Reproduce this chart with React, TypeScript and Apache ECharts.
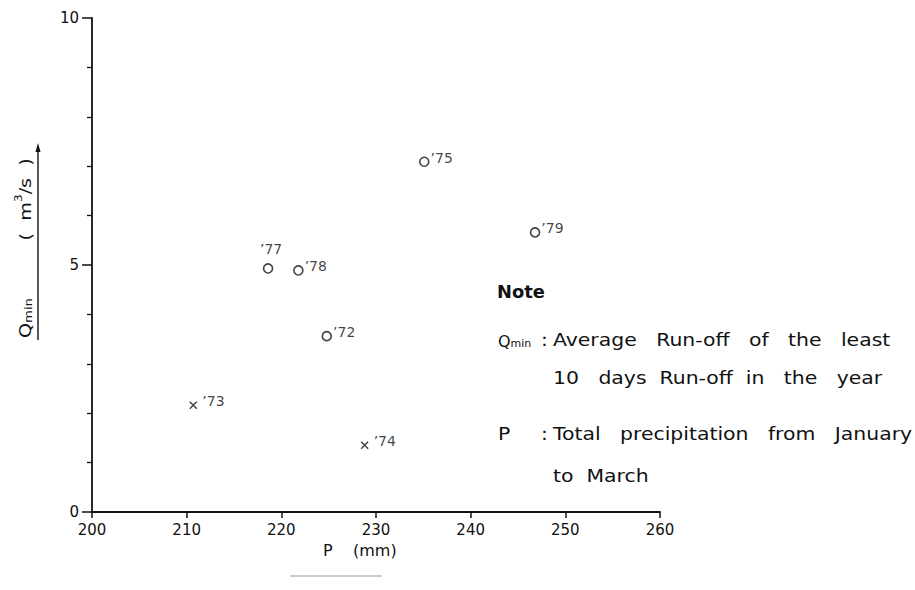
import React, { useEffect, useRef } from "react";
import * as echarts from "echarts";

const years = ["’72", "’73", "’74", "’75", "’77", "’78", "’79"];
const precipitation = [224.8, 210.7, 228.8, 235.1, 218.6, 221.8, 246.8];
const qmin = [3.56, 2.16, 1.35, 7.09, 4.93, 4.89, 5.66];
const markerKind = ["o", "x", "x", "o", "o", "o", "o"];
const xTicks = [200, 210, 220, 230, 240, 250, 260];
const yTicks = [0, 5, 10];

const FONT = "DejaVu Sans";
const CROSS = "path://M0,0L10,10M10,0L0,10";

export default function App() {
  const ref = useRef<HTMLDivElement>(null);
  useEffect(() => {
    if (!ref.current) return;
    const chart = echarts.init(ref.current, null, { renderer: "svg" });
    const labelAbove = new Set(["’77"]);
    const data = years.map((y, i) => {
      const isO = markerKind[i] === "o";
      const above = labelAbove.has(y);
      return {
        name: y,
        value: [precipitation[i], qmin[i]],
        symbol: isO ? "circle" : CROSS,
        symbolSize: isO ? 9 : 7,
        itemStyle: isO
          ? { color: "#fff", borderColor: "#111", borderWidth: 1.6 }
          : { color: "none", borderColor: "#111", borderWidth: 1.4 },
        label: {
          show: true,
          formatter: y,
          position: above ? "top" : "right",
          distance: above ? 7 : isO ? 1 : 3,
          offset: above ? [3, 0] : [0, -4],
          color: "#111",
          fontFamily: FONT,
          fontSize: 14,
        },
      };
    });
    const noteText = (x: number, y: number, text: string) => ({
      type: "text",
      x,
      y,
      scaleX: 1.2,
      style: { text, fontFamily: FONT, fontSize: 17, fill: "#111", textVerticalAlign: "middle" },
    });
    chart.setOption({
      animation: false,
      backgroundColor: "#fff",
      grid: { left: 92, right: 255, top: 18, bottom: 78 },
      xAxis: {
        type: "value",
        min: 200,
        max: 260,
        interval: 10,
        axisLine: { show: true, lineStyle: { color: "#111", width: 1.8 } },
        axisTick: { show: true, length: 6, lineStyle: { color: "#111", width: 1.5 } },
        axisLabel: {
          color: "#111",
          fontFamily: FONT,
          fontSize: 15,
          margin: 10,
          formatter: (v: number) => (xTicks.includes(v) ? String(v) : ""),
        },
        splitLine: { show: false },
      },
      yAxis: {
        type: "value",
        min: 0,
        max: 10,
        interval: 5,
        axisLine: { show: true, lineStyle: { color: "#111", width: 1.8 } },
        axisTick: { show: true, length: 10, lineStyle: { color: "#111", width: 1.5 } },
        minorTick: { show: true, splitNumber: 5, length: 5, lineStyle: { color: "#111", width: 1.3 } },
        axisLabel: {
          color: "#111",
          fontFamily: FONT,
          fontSize: 15,
          margin: 13,
          formatter: (v: number) => (yTicks.includes(v) ? String(v) : ""),
        },
        splitLine: { show: false },
      },
      series: [
        {
          type: "scatter",
          data,
        },
      ],
      graphic: [
        {
          type: "text",
          x: 323,
          y: 550,
          style: { text: "P    (mm)", fontFamily: FONT, fontSize: 16, fill: "#111", textVerticalAlign: "middle" },
        },
        {
          type: "line",
          shape: { x1: 290, y1: 576, x2: 382, y2: 576 },
          style: { stroke: "#999", lineWidth: 1.2 },
        },
        {
          type: "text",
          x: 24,
          y: 338,
          rotation: Math.PI / 2,
          scaleX: 1.2,
          style: {
            text: "{q|Q}{s|min}{g| }{u|(  m}{p|3}{u|/s  )}",
            fontFamily: FONT,
            fill: "#111",
            textVerticalAlign: "middle",
            rich: {
              q: { fontSize: 16, fontFamily: FONT, lineHeight: 20, verticalAlign: "bottom" },
              s: { fontSize: 11, fontFamily: FONT, lineHeight: 20, verticalAlign: "bottom" },
              g: { fontSize: 16, fontFamily: FONT, lineHeight: 20, width: 48 },
              u: { fontSize: 16, fontFamily: FONT, lineHeight: 20, verticalAlign: "bottom" },
              p: { fontSize: 10, fontFamily: FONT, lineHeight: 20, verticalAlign: "top" },
            },
          },
        },
        {
          type: "line",
          shape: { x1: 38, y1: 340, x2: 38, y2: 148 },
          style: { stroke: "#111", lineWidth: 1.4 },
        },
        {
          type: "polygon",
          shape: { points: [[35.5, 152], [40.5, 152], [38, 143]] },
          style: { fill: "#111" },
        },
        {
          type: "text",
          x: 497,
          y: 292,
          scaleX: 1.05,
          style: { text: "Note", fontFamily: FONT, fontSize: 17, fontWeight: "bold", fill: "#111", textVerticalAlign: "middle" },
        },
        {
          type: "text",
          x: 498,
          y: 340,
          style: {
            text: "{q|Q}{s|min}",
            fill: "#111",
            textVerticalAlign: "middle",
            rich: {
              q: { fontSize: 16, fontFamily: FONT, lineHeight: 18, verticalAlign: "bottom" },
              s: { fontSize: 11, fontFamily: FONT, lineHeight: 18, verticalAlign: "bottom" },
            },
          },
        },
        noteText(541, 340, ":"),
        noteText(553, 340, "Average   Run-off   of   the   least"),
        noteText(553, 378, "10   days  Run-off  in   the   year"),
        noteText(498, 434, "P"),
        noteText(541, 434, ":"),
        noteText(553, 434, "Total   precipitation   from   January"),
        noteText(553, 476, "to  March"),
      ],
    });
    return () => chart.dispose();
  }, []);
  return <div ref={ref} style={{ position: "fixed", left: 0, top: 0, width: 915, height: 590 }} />;
}
